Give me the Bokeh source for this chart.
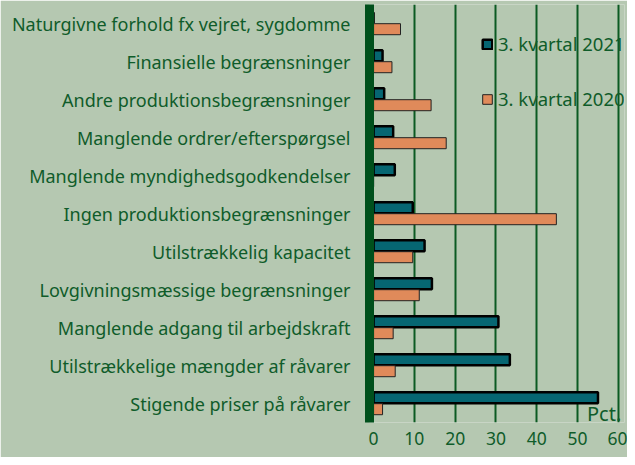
from bokeh.plotting import figure
from bokeh.models import Range1d, FactorRange, Label, Legend, FixedTicker, ColumnDataSource
from bokeh.transform import dodge
from bokeh.embed import file_html
from bokeh.resources import INLINE

categories = [
    "Naturgivne forhold fx vejret, sygdomme",
    "Finansielle begrænsninger",
    "Andre produktionsbegrænsninger",
    "Manglende ordrer/efterspørgsel",
    "Manglende myndighedsgodkendelser",
    "Ingen produktionsbegrænsninger",
    "Utilstrækkelig kapacitet",
    "Lovgivningsmæssige begrænsninger",
    "Manglende adgang til arbejdskraft",
    "Utilstrækkelige mængder af råvarer",
    "Stigende priser på råvarer",
]
q3_2021 = [0.0, 2.2, 2.6, 4.8, 5.2, 9.6, 12.5, 14.3, 30.6, 33.4, 55.0]
q3_2020 = [6.6, 4.5, 14.1, 17.8, 0.0, 44.8, 9.6, 11.2, 4.8, 5.3, 2.2]
x_ticks = [0, 10, 20, 30, 40, 50, 60]
series_names = ["3. kvartal 2021", "3. kvartal 2020"]

BG = "#b5c8b1"
TXT = "#0f5c2a"
GRID = "#0b5a22"
AXIS = "#00501c"
TEAL = "#066672"
ORANGE = "#e08a5a"
FONT = "Noto Sans"

src = ColumnDataSource(dict(cat=categories, a=q3_2021, b=q3_2020))

p = figure(width=627, height=457, output_backend="svg", toolbar_location=None,
           y_range=FactorRange(factors=categories[::-1], range_padding=0),
           x_range=Range1d(-1, 61.5),
           min_border_left=369, min_border_right=3, min_border_top=4, min_border_bottom=35)
p.background_fill_color = BG
p.border_fill_color = BG
p.outline_line_color = None

r1 = p.hbar(y=dodge("cat", 0.15, range=p.y_range), left=0, right="a", height=0.29, source=src,
            fill_color=TEAL, line_color="black", line_width=2.5)
r2 = p.hbar(y=dodge("cat", -0.15, range=p.y_range), left=0, right="b", height=0.29, source=src,
            fill_color=ORANGE, line_color="#222222", line_width=1)

legend = Legend(items=[(series_names[0], [r1]), (series_names[1], [r2])],
                location=(112, 311), orientation="vertical",
                background_fill_alpha=0, border_line_color=None,
                padding=0, margin=0, spacing=30,
                glyph_width=12, glyph_height=12, label_standoff=5,
                label_text_font=FONT, label_text_font_size="18.5px", label_text_color=TXT)
p.add_layout(legend)

p.ygrid.grid_line_color = None
p.xgrid.grid_line_color = GRID
p.xgrid.grid_line_width = 2
p.xgrid.ticker = FixedTicker(ticks=x_ticks[1:])

p.xaxis.ticker = FixedTicker(ticks=x_ticks)
p.xaxis.axis_line_color = None
p.xaxis.major_tick_line_color = None
p.xaxis.minor_tick_line_color = None
p.xaxis.major_tick_out = 0
p.xaxis.major_label_standoff = 9
p.xaxis.major_label_text_font = FONT
p.xaxis.major_label_text_font_size = "17.5px"
p.xaxis.major_label_text_color = TXT

p.yaxis.axis_line_color = AXIS
p.yaxis.axis_line_width = 9
p.yaxis.major_tick_line_color = None
p.yaxis.minor_tick_line_color = None
p.yaxis.major_tick_out = 0
p.yaxis.major_tick_in = 0
p.yaxis.major_label_standoff = 19
p.yaxis.major_label_text_font = FONT
p.yaxis.major_label_text_font_size = "18px"
p.yaxis.major_label_text_color = TXT

p.add_layout(Label(x=60.7, y=9, x_units="data", y_units="screen", text="Pct.",
                   text_align="right", text_baseline="alphabetic",
                   text_font=FONT, text_font_size="20px", text_color=TXT))

html = file_html(p, INLINE)
html = html.replace("<body>", '<body style="background:%s">' % BG, 1)
open("out.html", "w").write(html)
